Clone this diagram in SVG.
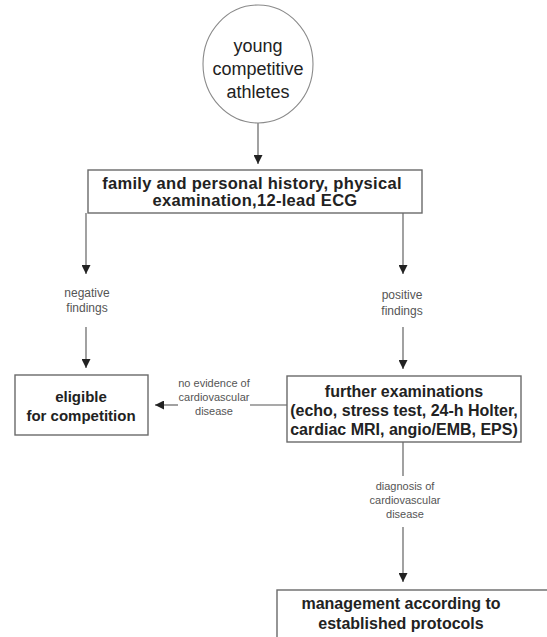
<svg xmlns="http://www.w3.org/2000/svg" width="547" height="637" viewBox="0 0 547 637">
<style>
.box{fill:#fff;stroke:#6a6a6a;stroke-width:1.4}
.circ{fill:#fff;stroke:#8a8a8a;stroke-width:1.1}
.t{font-family:"Liberation Sans",Arial,sans-serif;fill:#222;text-anchor:middle}
.b{font-weight:bold}
.lbl{font-family:"Liberation Sans",Arial,sans-serif;fill:#555;font-size:12px;text-anchor:middle}
.sm{font-size:11px}
.ln{stroke:#555;stroke-width:1.1;fill:none}
</style>
<defs>
<marker id="ah" viewBox="0 0 10 10" refX="10" refY="5" markerWidth="9" markerHeight="9" markerUnits="userSpaceOnUse" orient="auto">
<path d="M0,0 L10,5 L0,10 z" fill="#222"/>
</marker>
</defs>
<rect width="547" height="637" fill="#fff"/>
<g id="connectors">
<line class="ln" x1="258" y1="123" x2="258" y2="164" marker-end="url(#ah)"/>
<line class="ln" x1="86" y1="213" x2="86" y2="274" marker-end="url(#ah)"/>
<line class="ln" x1="86" y1="327" x2="86" y2="368" marker-end="url(#ah)"/>
<line class="ln" x1="403" y1="213" x2="403" y2="274" marker-end="url(#ah)"/>
<line class="ln" x1="403" y1="327" x2="403" y2="369" marker-end="url(#ah)"/>
<line class="ln" x1="287" y1="405" x2="250" y2="405"/>
<line class="ln" x1="178" y1="405" x2="155" y2="405" marker-end="url(#ah)"/>
<line class="ln" x1="403" y1="442" x2="403" y2="476"/>
<line class="ln" x1="403" y1="527" x2="403" y2="582" marker-end="url(#ah)"/>
<text class="lbl" x="87" y="297">negative</text>
<text class="lbl" x="87" y="312">findings</text>
<text class="lbl" x="402" y="299">positive</text>
<text class="lbl" x="402" y="315">findings</text>
<text class="lbl sm" x="214" y="387">no evidence of</text>
<text class="lbl sm" x="214" y="401">cardiovascular</text>
<text class="lbl sm" x="214" y="415">disease</text>
<text class="lbl sm" x="405" y="490">diagnosis of</text>
<text class="lbl sm" x="405" y="504">cardiovascular</text>
<text class="lbl sm" x="405" y="518">disease</text>
</g>
<g id="athletes">
<ellipse class="circ" cx="258" cy="64" rx="55" ry="59"/>
<text class="t" font-size="18" x="258" y="52">young</text>
<text class="t" font-size="18" x="258" y="75">competitive</text>
<text class="t" font-size="18" x="258" y="98">athletes</text>
</g>
<g id="history">
<rect class="box" x="88" y="170" width="334" height="43"/>
<text class="t b" font-size="16.5" letter-spacing="0.3" x="252" y="189">family and personal history, physical</text>
<text class="t b" font-size="16.5" letter-spacing="0.3" x="255" y="206">examination,12-lead ECG</text>
</g>
<g id="eligible">
<rect class="box" x="15" y="375" width="133" height="60"/>
<text class="t b" font-size="15" x="81" y="402">eligible</text>
<text class="t b" font-size="15" x="81" y="421">for competition</text>
</g>
<g id="further">
<rect class="box" x="287" y="376" width="234" height="66"/>
<text class="t b" font-size="16" x="404" y="397">further examinations</text>
<text class="t b" font-size="16" x="404" y="416">(echo, stress test, 24-h Holter,</text>
<text class="t b" font-size="16" x="404" y="435">cardiac MRI, angio/EMB, EPS)</text>
</g>
<g id="management">
<rect class="box" x="277" y="590" width="300" height="80"/>
<text class="t b" font-size="16" x="401" y="609">management according to</text>
<text class="t b" font-size="16" x="401" y="629">established protocols</text>
</g>
</svg>
